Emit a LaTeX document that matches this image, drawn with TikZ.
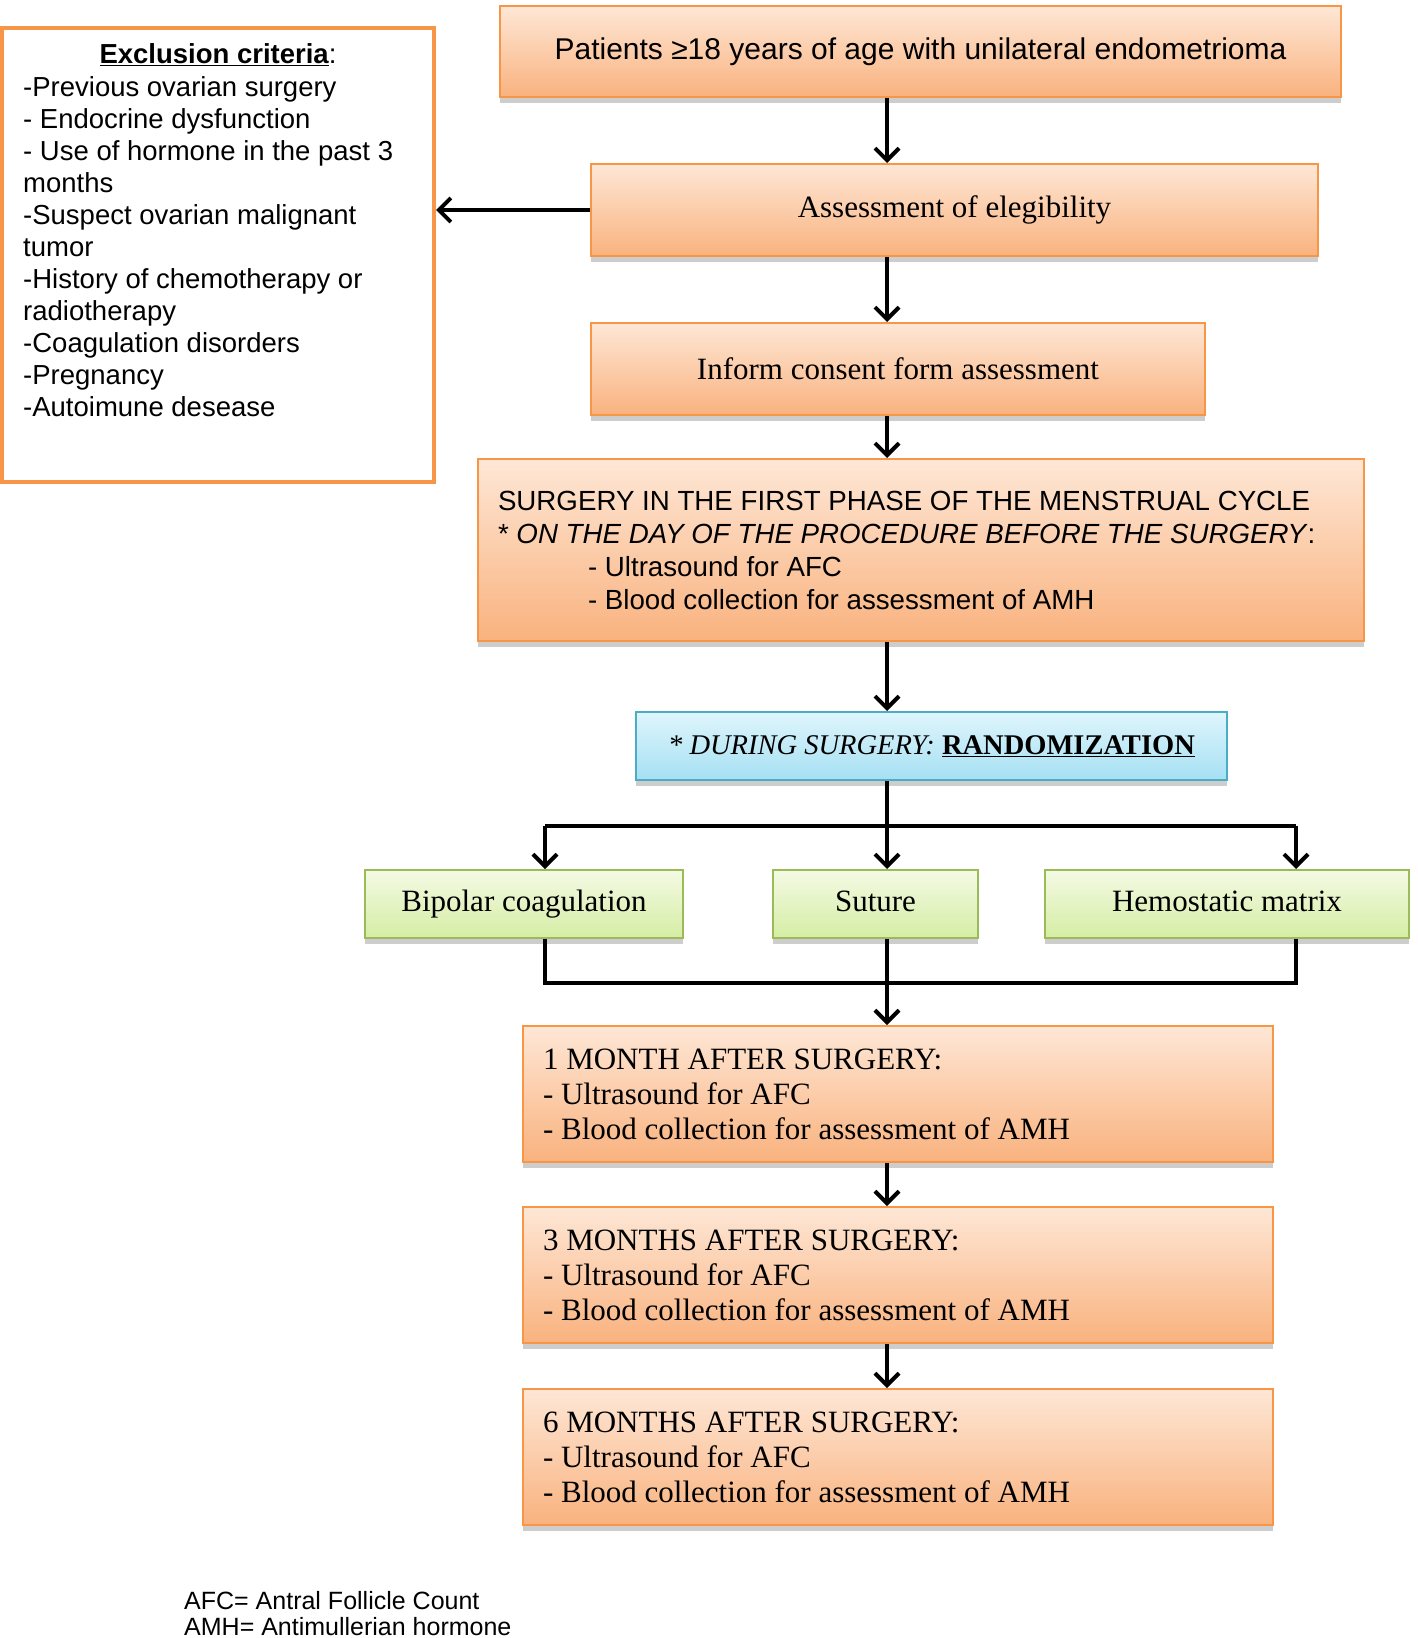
\documentclass[tikz,border=0pt]{standalone}
\usepackage{fontspec}
\setmainfont{Liberation Serif}
\newfontfamily\arial{Liberation Sans}
\usetikzlibrary{arrows.meta,shadows}
\definecolor{obord}{HTML}{F79646}
\definecolor{otop}{HTML}{FEE7D6}
\definecolor{obot}{HTML}{F9B27E}
\definecolor{bbord}{HTML}{4BACC6}
\definecolor{btop}{HTML}{DFF5FC}
\definecolor{bbot}{HTML}{A5E0F3}
\definecolor{gbord}{HTML}{9BBB59}
\definecolor{gtop}{HTML}{F4FAE4}
\definecolor{gbot}{HTML}{D5EDA4}
\newcommand\natsp{\spaceskip=0pt\relax\xspaceskip=0pt\relax}
\tikzset{
  shade/.style={drop shadow={shadow xshift=0pt,shadow yshift=-6pt,opacity=0.28,fill=black!70}},
  obox/.style={draw=obord,line width=2pt,top color=otop,bottom color=obot,shade,inner sep=0pt,align=center},
  bbox/.style={draw=bbord,line width=2pt,top color=btop,bottom color=bbot,shade,inner sep=0pt,align=center},
  gbox/.style={draw=gbord,line width=2pt,top color=gtop,bottom color=gbot,shade,inner sep=0pt,align=center,text height=22pt,text depth=7pt},
  serif/.style={font=\fontsize{31}{35}\selectfont},
  sans/.style={font=\arial\fontsize{27.5}{32}\selectfont},
  conn/.style={line width=4pt,black},
  arr/.style={conn,-{Straight Barb[length=12pt,width=24pt]}},
}
\begin{document}
\begin{tikzpicture}[x=1pt,y=-1pt]
\useasboundingbox (0,0) rectangle (1418,1638);
\fill[white] (0,0) rectangle (1418,1638);

% exclusion box
\node[draw=obord,line width=4pt,fill=white,minimum width=432pt,minimum height=454pt,inner sep=0pt] (excl) at (218,255) {};
\node[sans,inner sep=0pt] (excltitle) at (218,55) {\textbf{\underline{Exclusion criteria}}:};
\node[sans,inner sep=0pt,align=left,anchor=north west] (excllist) at (23,76) {-Previous ovarian surgery\\
- Endocrine dysfunction\\
- Use of hormone in the past 3\\
months\\
-Suspect ovarian malignant\\
tumor\\
-History of chemotherapy or\\
radiotherapy\\
-Coagulation disorders\\
-Pregnancy\\
-Autoimune desease};

% main column
\node[obox,font=\arial\fontsize{30}{33}\selectfont,minimum width=841pt,minimum height=91pt] (top) at (920.5,51.5) {Patients ≥18 years of age with unilateral endometrioma};
\node[obox,serif,minimum width=727pt,minimum height=92pt] (elig) at (954.5,210) {Assessment of elegibility};
\node[obox,serif,minimum width=614pt,minimum height=92pt] (consent) at (898,369) {Inform consent form assessment};
\node[obox,font=\arial\fontsize{27.7}{33}\selectfont,minimum width=886pt,minimum height=182pt,inner xsep=20pt,text width=846pt,align=left] (surg) at (921,550) {\natsp SURGERY IN THE FIRST PHASE OF THE MENSTRUAL CYCLE\\
{*} \textit{ON THE DAY OF THE PROCEDURE BEFORE THE SURGERY}:\\
\hspace*{90pt}- Ultrasound for AFC\\
\hspace*{90pt}- Blood collection for assessment of AMH};
\node[bbox,font=\fontsize{28.5}{33}\selectfont,minimum width=591pt,minimum height=68pt] (rand) at (931.5,746) {\textit{* DURING SURGERY:} \textbf{\underline{RANDOMIZATION}}};

\node[gbox,serif,minimum width=318pt,minimum height=68pt] (bip) at (524,904) {Bipolar coagulation};
\node[gbox,serif,minimum width=205pt,minimum height=68pt] (sut) at (875.5,904) {Suture};
\node[gbox,serif,minimum width=364pt,minimum height=68pt] (hem) at (1227,904) {Hemostatic matrix};

\node[obox,serif,minimum width=750pt,minimum height=136pt,inner xsep=20pt,text width=710pt,align=left] (m1) at (898,1094) {\natsp 1 MONTH AFTER SURGERY:\\- Ultrasound for AFC\\- Blood collection for assessment of AMH};
\node[obox,serif,minimum width=750pt,minimum height=136pt,inner xsep=20pt,text width=710pt,align=left] (m3) at (898,1275) {\natsp 3 MONTHS AFTER SURGERY:\\- Ultrasound for AFC\\- Blood collection for assessment of AMH};
\node[obox,serif,minimum width=750pt,minimum height=136pt,inner xsep=20pt,text width=710pt,align=left] (m6) at (898,1457) {\natsp 6 MONTHS AFTER SURGERY:\\- Ultrasound for AFC\\- Blood collection for assessment of AMH};

\node[font=\arial\fontsize{25}{26}\selectfont,inner sep=0pt,align=left,anchor=north west] (foot) at (184,1591) {AFC= Antral Follicle Count\\AMH= Antimullerian hormone};

% connectors
\coordinate (cx) at (887,0);
\coordinate (splitL) at (545,826);
\coordinate (splitR) at (1296,826);
\coordinate (joinL) at (545,983);
\coordinate (joinR) at (1296,983);
\draw[arr] (top.south -| cx) -- (elig.north -| cx);
\draw[arr] (elig.south -| cx) -- (consent.north -| cx);
\draw[arr] (consent.south -| cx) -- (surg.north -| cx);
\draw[arr] (surg.south -| cx) -- (rand.north -| cx);
\draw[arr] (elig.west) -- (excl.east |- elig.west);
\draw[conn] (splitL) -- (splitR);
\draw[arr] (rand.south -| cx) -- (sut.north -| cx);
\draw[arr] (splitL) -- (bip.north -| splitL);
\draw[arr] (splitR) -- (hem.north -| splitR);
\draw[conn] (bip.south -| joinL) -- (joinL) -- (joinR) -- (hem.south -| joinR);
\draw[arr] (sut.south -| cx) -- (m1.north -| cx);
\draw[arr] (m1.south -| cx) -- (m3.north -| cx);
\draw[arr] (m3.south -| cx) -- (m6.north -| cx);
\end{tikzpicture}
\end{document}
